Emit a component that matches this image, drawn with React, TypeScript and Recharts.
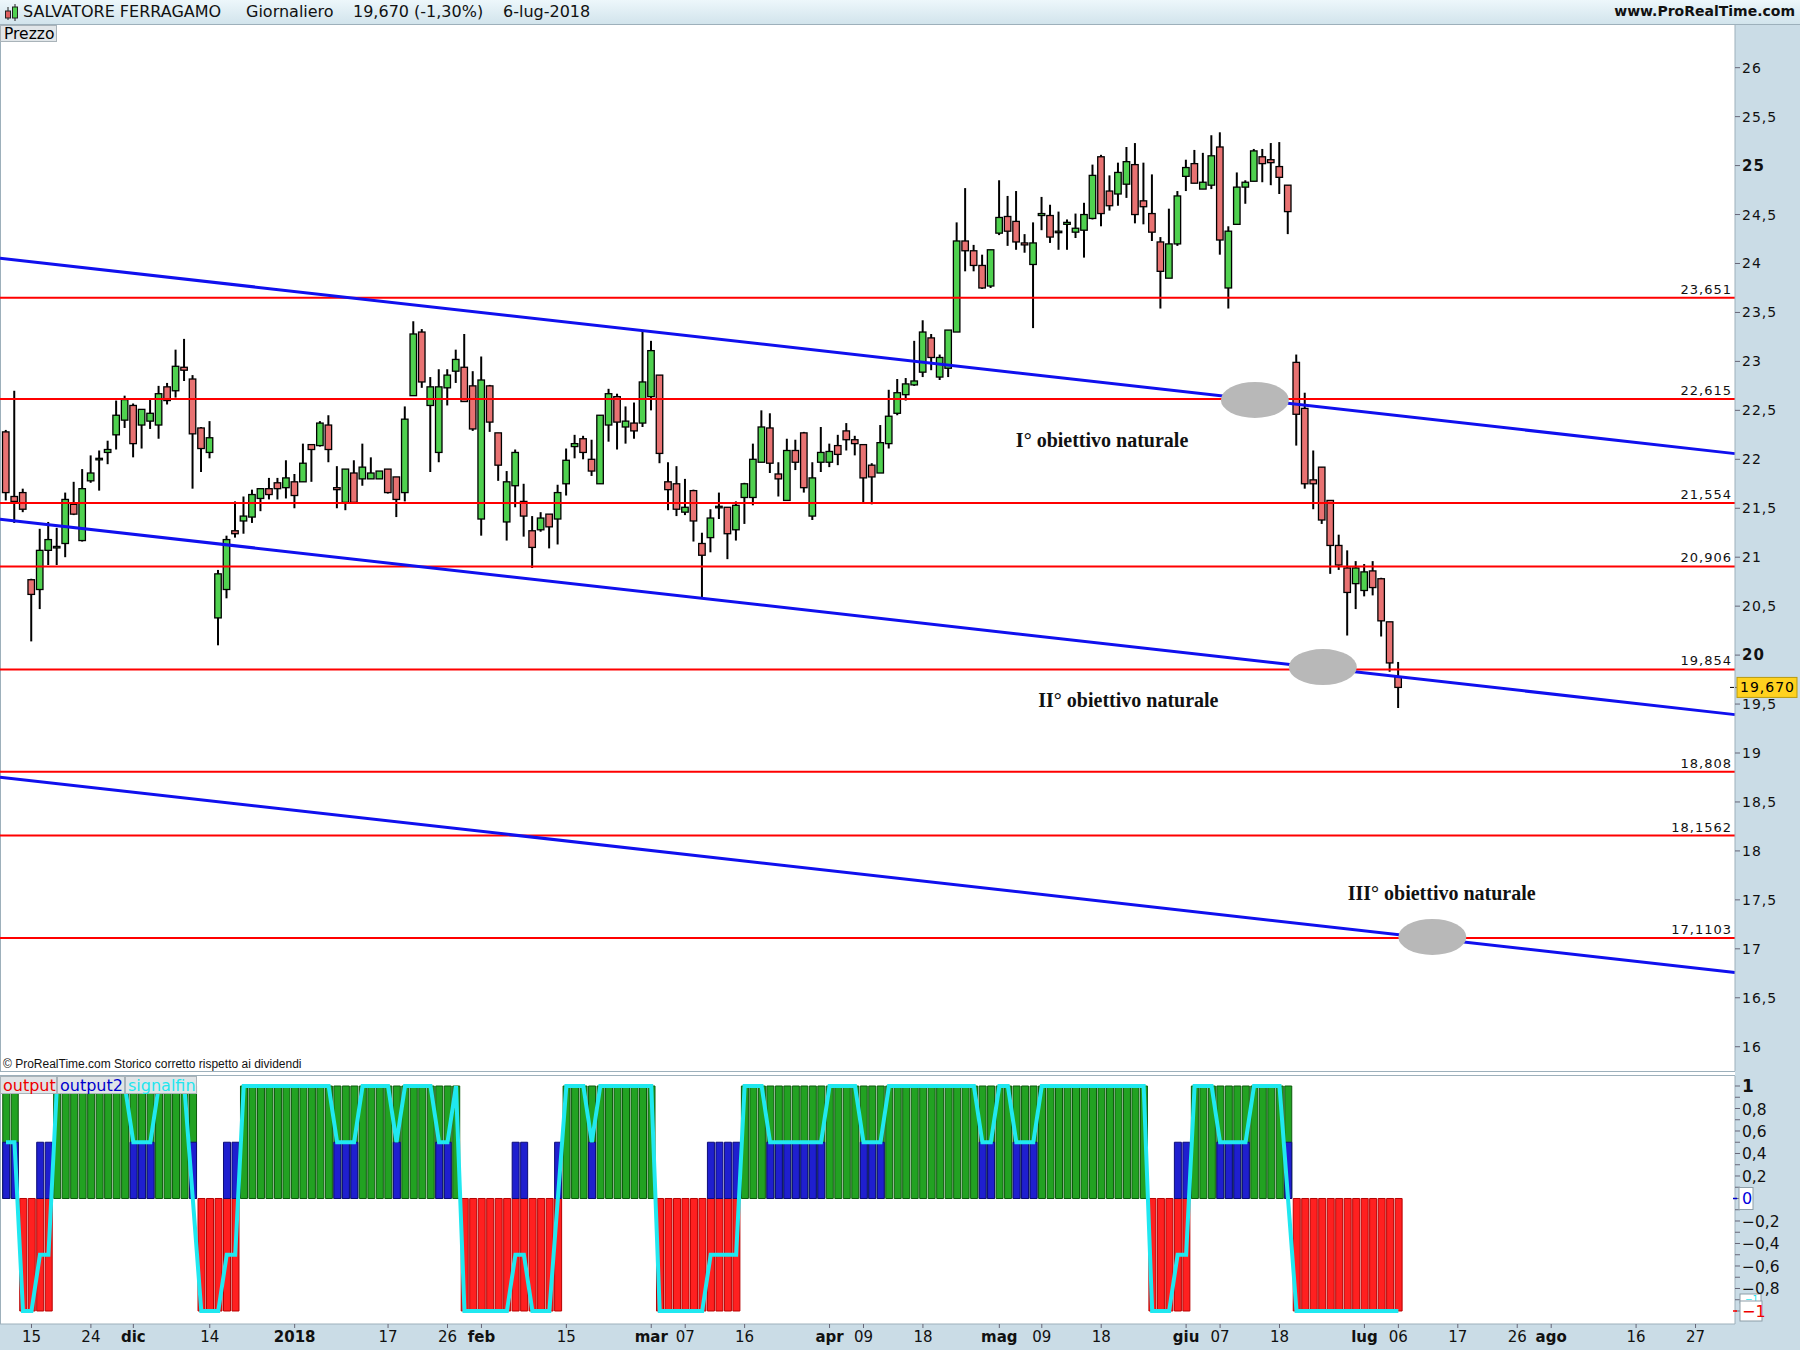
import React from 'react'
import { ComposedChart, Bar, Line, XAxis, YAxis, ReferenceLine, ReferenceDot, Cell } from 'recharts'

// Salvatore Ferragamo, daily, 10 nov 2017 - 6 lug 2018 (165 sedute)
const opens = [
  22.28, 21.62, 21.66, 20.77, 20.67, 21.07, 21.10, 21.14, 21.54, 21.17,
  21.78, 22.00, 22.07, 22.25, 22.40, 22.55, 22.35, 22.39, 22.35, 22.74,
  22.70, 22.94, 22.82, 22.32, 22.07, 20.38, 20.67, 21.27, 21.37, 21.41,
  21.60, 21.70, 21.76, 21.71, 21.77, 21.77, 22.15, 22.14, 22.35, 21.71,
  21.56, 21.86, 21.80, 21.80, 21.80, 21.90, 21.82, 21.66, 22.65, 23.30,
  22.55, 22.07, 22.73, 22.90, 22.94, 22.75, 21.39, 22.75, 22.27, 21.36,
  21.73, 21.57, 21.27, 21.28, 21.44, 21.39, 21.75, 22.13, 22.21, 22.00,
  21.75, 22.35, 22.64, 22.33, 22.37, 22.37, 22.64, 22.86, 21.77, 21.75,
  21.46, 21.68, 21.14, 21.20, 21.51, 21.51, 21.28, 21.61, 21.61, 21.97,
  22.32, 21.85, 21.58, 22.09, 22.27, 21.42, 21.97, 21.97, 22.14, 22.29,
  22.20, 22.15, 21.94, 21.86, 22.16, 22.47, 22.66, 22.76, 22.89, 23.24,
  22.84, 22.93, 23.30, 24.23, 24.13, 23.98, 23.77, 24.31, 24.48, 24.43,
  24.21, 23.99, 24.49, 24.49, 24.33, 24.40, 24.32, 24.34, 24.46, 25.09,
  24.74, 24.71, 24.81, 25.01, 24.64, 24.51, 24.22, 23.85, 24.20, 24.89,
  25.02, 24.76, 24.80, 25.19, 23.75, 24.40, 24.78, 24.84, 25.09, 25.06,
  24.99, 24.80, 22.99, 22.52, 21.79, 21.92, 21.58, 21.12, 20.89, 20.73,
  20.66, 20.86, 20.78, 20.34, 19.78,
]
const highs = [
  22.30, 22.70, 21.70, 20.78, 21.29, 21.36, 21.30, 21.66, 21.77, 21.90,
  22.04, 22.09, 22.19, 22.60, 22.65, 22.57, 22.51, 22.61, 22.75, 22.78,
  23.12, 23.23, 22.86, 22.33, 22.39, 20.87, 21.22, 21.57, 21.62, 21.69,
  21.70, 21.81, 21.81, 21.99, 21.85, 22.16, 22.15, 22.39, 22.45, 21.93,
  21.90, 21.99, 22.16, 22.02, 21.88, 21.90, 21.82, 22.54, 23.41, 23.33,
  22.84, 22.92, 22.92, 23.12, 23.28, 22.90, 23.05, 22.76, 22.27, 21.88,
  22.10, 21.75, 21.42, 21.46, 21.44, 21.74, 22.11, 22.25, 22.24, 22.20,
  22.45, 22.72, 22.67, 22.54, 22.58, 23.31, 23.21, 22.86, 21.97, 21.93,
  21.80, 21.69, 21.25, 21.49, 21.66, 21.51, 21.57, 21.76, 22.16, 22.50,
  22.47, 21.97, 22.21, 22.20, 22.28, 21.97, 22.33, 22.16, 22.25, 22.37,
  22.24, 22.15, 21.96, 22.35, 22.71, 22.82, 22.83, 23.21, 23.42, 23.28,
  23.07, 23.32, 24.42, 24.77, 24.19, 24.09, 24.14, 24.85, 24.69, 24.74,
  24.30, 24.42, 24.68, 24.60, 24.53, 24.45, 24.51, 24.62, 25.01, 25.11,
  24.90, 25.03, 25.19, 25.23, 25.03, 24.91, 24.27, 24.56, 24.74, 25.06,
  25.16, 25.13, 25.31, 25.34, 24.38, 24.93, 24.85, 25.17, 25.17, 25.23,
  25.24, 24.80, 23.07, 22.68, 22.09, 21.92, 21.58, 21.23, 21.07, 20.96,
  20.93, 20.96, 20.79, 20.34, 19.93,
]
const lows = [
  21.58, 21.35, 21.46, 20.14, 20.47, 20.92, 20.92, 21.00, 21.43, 21.16,
  21.76, 21.68, 21.95, 22.10, 22.32, 22.02, 22.11, 22.31, 22.21, 22.56,
  22.63, 22.80, 21.70, 21.87, 22.01, 20.10, 20.58, 21.20, 21.24, 21.35,
  21.47, 21.59, 21.59, 21.60, 21.50, 21.77, 21.77, 22.13, 21.97, 21.50,
  21.48, 21.56, 21.73, 21.80, 21.80, 21.65, 21.41, 21.57, 22.65, 22.73,
  21.87, 21.97, 22.55, 22.78, 22.59, 22.29, 21.22, 22.28, 21.78, 21.17,
  21.51, 21.21, 20.89, 21.26, 21.09, 21.13, 21.63, 22.01, 22.00, 21.83,
  21.75, 22.18, 22.10, 22.16, 22.21, 22.33, 22.50, 21.96, 21.48, 21.42,
  21.43, 21.16, 20.59, 21.05, 21.39, 20.98, 21.17, 21.34, 21.53, 21.97,
  21.86, 21.62, 21.58, 21.89, 21.66, 21.38, 21.87, 21.92, 21.94, 22.09,
  22.04, 21.55, 21.54, 21.86, 22.11, 22.45, 22.60, 22.75, 22.84, 22.91,
  22.81, 22.84, 23.30, 23.92, 23.92, 23.74, 23.75, 24.29, 24.18, 24.14,
  24.11, 23.34, 24.34, 24.21, 24.14, 24.14, 24.26, 24.06, 24.45, 24.38,
  24.54, 24.59, 24.67, 24.41, 24.40, 24.23, 23.54, 23.85, 24.18, 24.74,
  24.82, 24.76, 24.76, 24.09, 23.54, 24.40, 24.61, 24.84, 24.83, 24.80,
  24.71, 24.30, 22.14, 21.70, 21.49, 21.34, 20.83, 20.87, 20.20, 20.47,
  20.60, 20.61, 20.19, 19.83, 19.46,
]
const closes = [
  21.66, 21.57, 21.49, 20.62, 21.07, 21.18, 21.11, 21.59, 21.44, 21.70,
  21.86, 22.01, 22.10, 22.45, 22.61, 22.16, 22.51, 22.47, 22.67, 22.60,
  22.95, 22.91, 22.26, 22.11, 22.22, 20.83, 21.18, 21.24, 21.42, 21.64,
  21.70, 21.64, 21.70, 21.81, 21.63, 21.96, 22.10, 22.37, 22.10, 21.69,
  21.90, 21.56, 21.92, 21.86, 21.88, 21.66, 21.59, 22.41, 23.28, 22.79,
  22.74, 22.74, 22.86, 23.02, 22.59, 22.31, 22.81, 22.38, 21.94, 21.77,
  22.07, 21.42, 21.10, 21.40, 21.31, 21.66, 21.99, 22.16, 22.07, 21.88,
  22.45, 22.67, 22.38, 22.39, 22.29, 22.79, 23.11, 22.06, 21.69, 21.49,
  21.51, 21.37, 21.02, 21.40, 21.52, 21.24, 21.53, 21.75, 22.00, 22.33,
  21.96, 21.80, 22.09, 21.97, 21.71, 21.81, 22.07, 22.08, 22.05, 22.20,
  22.16, 21.81, 21.82, 22.17, 22.44, 22.68, 22.77, 22.80, 23.30, 23.04,
  23.04, 23.32, 24.23, 24.13, 23.98, 23.75, 24.14, 24.47, 24.33, 24.22,
  24.19, 24.21, 24.51, 24.27, 24.33, 24.42, 24.36, 24.50, 24.90, 24.51,
  24.59, 24.93, 25.04, 24.50, 24.58, 24.32, 23.92, 24.20, 24.69, 24.98,
  24.82, 24.83, 25.10, 24.24, 24.33, 24.78, 24.83, 25.15, 25.02, 25.03,
  24.88, 24.53, 22.46, 21.75, 21.75, 21.38, 21.12, 20.92, 20.64, 20.89,
  20.85, 20.69, 20.35, 19.92, 19.67,
]

// indicatore: output (+1/-1), output2 (0,5), signalfin
const outputVals = [
  1, 1, -1, -1, -1, -1, 1, 1, 1, 1,
  1, 1, 1, 1, 1, 1, 1, 1, 1, 1,
  1, 1, 1, -1, -1, -1, -1, -1, 1, 1,
  1, 1, 1, 1, 1, 1, 1, 1, 1, 1,
  1, 1, 1, 1, 1, 1, 1, 1, 1, 1,
  1, 1, 1, 1, -1, -1, -1, -1, -1, -1,
  -1, -1, -1, -1, -1, -1, 1, 1, 1, 1,
  1, 1, 1, 1, 1, 1, 1, -1, -1, -1,
  -1, -1, -1, -1, -1, -1, -1, 1, 1, 1,
  1, 1, 1, 1, 1, 1, 1, 1, 1, 1,
  1, 1, 1, 1, 1, 1, 1, 1, 1, 1,
  1, 1, 1, 1, 1, 1, 1, 1, 1, 1,
  1, 1, 1, 1, 1, 1, 1, 1, 1, 1,
  1, 1, 1, 1, 1, -1, -1, -1, -1, -1,
  1, 1, 1, 1, 1, 1, 1, 1, 1, 1,
  1, 1, -1, -1, -1, -1, -1, -1, -1, -1,
  -1, -1, -1, -1, -1,
]
const output2Vals = [
  0.5, 0.5, null, null, 0.5, 0.5, null, null, null, null,
  null, null, null, null, null, 0.5, 0.5, 0.5, null, null,
  null, null, 0.5, null, null, null, 0.5, 0.5, null, null,
  null, null, null, null, null, null, null, null, null, 0.5,
  0.5, 0.5, null, null, null, null, 0.5, null, null, null,
  null, 0.5, 0.5, null, null, null, null, null, null, null,
  0.5, 0.5, null, null, null, 0.5, null, null, null, 0.5,
  null, null, null, null, null, null, null, null, null, null,
  null, null, null, 0.5, 0.5, 0.5, 0.5, null, null, null,
  0.5, 0.5, 0.5, 0.5, 0.5, 0.5, 0.5, null, null, null,
  null, 0.5, 0.5, 0.5, null, null, null, null, null, null,
  null, null, null, null, null, 0.5, 0.5, null, null, 0.5,
  0.5, 0.5, null, null, null, null, null, null, null, null,
  null, null, null, null, null, null, null, null, 0.5, 0.5,
  null, null, null, 0.5, 0.5, 0.5, 0.5, null, null, null,
  null, 0.5, null, null, null, null, null, null, null, null,
  null, null, null, null, null,
]
const signalVals = [
  0.5, 0.5, -1, -1, -0.5, -0.5, 1, 1, 1, 1,
  1, 1, 1, 1, 1, 0.5, 0.5, 0.5, 1, 1,
  1, 1, 0, -1, -1, -1, -0.5, -0.5, 1, 1,
  1, 1, 1, 1, 1, 1, 1, 1, 1, 0.5,
  0.5, 0.5, 1, 1, 1, 1, 0.5, 1, 1, 1,
  1, 0.5, 0.5, 1, -1, -1, -1, -1, -1, -1,
  -0.5, -0.5, -1, -1, -1, 0, 1, 1, 1, 0.5,
  1, 1, 1, 1, 1, 1, 1, -1, -1, -1,
  -1, -1, -1, -0.5, -0.5, -0.5, -0.5, 1, 1, 1,
  0.5, 0.5, 0.5, 0.5, 0.5, 0.5, 0.5, 1, 1, 1,
  1, 0.5, 0.5, 0.5, 1, 1, 1, 1, 1, 1,
  1, 1, 1, 1, 1, 0.5, 0.5, 1, 1, 0.5,
  0.5, 0.5, 1, 1, 1, 1, 1, 1, 1, 1,
  1, 1, 1, 1, 1, -1, -1, -1, -0.5, -0.5,
  1, 1, 1, 0.5, 0.5, 0.5, 0.5, 1, 1, 1,
  1, 0, -1, -1, -1, -1, -1, -1, -1, -1,
  -1, -1, -1, -1, -1,
]

// livelli orizzontali e canale ribassista
const levels = [23.651, 22.615, 21.554, 20.906, 19.854, 18.808, 18.1562, 17.1103]
const channelX = [-0.707, 203.65]
const channelTop = [24.053, 22.058]
const channelMid = [21.387, 19.392]
const channelLow = [18.753, 16.758]
const targets = [
  { x: 147.1, y: 22.606 },
  { x: 155.1, y: 19.878 },
  { x: 168.0, y: 17.121 },
]
const notes = [
  { x: 129.1, y: 22.2, text: 'I° obiettivo naturale' },
  { x: 132.2, y: 19.54, text: 'II° obiettivo naturale' },
  { x: 169.1, y: 17.57, text: 'III° obiettivo naturale' },
]
const lastPrice = 19.67

const priceTicks = [16, 16.5, 17, 17.5, 18, 18.5, 19, 19.5, 20, 20.5, 21, 21.5, 22, 22.5, 23, 23.5, 24, 24.5, 25, 25.5, 26, lastPrice]
const indTicks = [-1, -0.9, -0.8, -0.7, -0.6, -0.5, -0.4, -0.3, -0.2, -0.1, 0, 0.1, 0.2, 0.3, 0.4, 0.5, 0.6, 0.7, 0.8, 0.9, 1]
const xTickIdx = [3, 10, 15, 24, 34, 45, 52, 56, 66, 76, 80, 87, 97, 101, 108, 117, 122, 129, 139, 143, 150, 160, 164, 171, 178, 182, 192, 199]
const xTickLabel = ['15', '24', 'dic', '14', '2018', '17', '26', 'feb', '15', 'mar', '07', '16', 'apr', '09', '18', 'mag', '09', '18', 'giu', '07', '18', 'lug', '06', '17', '26', 'ago', '16', '27']
const boldLabels = ['dic', '2018', 'feb', 'mar', 'apr', 'mag', 'giu', 'lug', 'ago']

const candles = opens.map((o, i) => ({ i, o, h: highs[i], l: lows[i], c: closes[i] }))
const indicator = outputVals.map((v, i) => ({ i, out: v, out2: output2Vals[i], sig: signalVals[i] }))

const X_DOMAIN = [-0.707, 203.65]
const SANS = '"DejaVu Sans", sans-serif'
const AXIS_BG = '#cadce6'
const BORDER = '#9db0bb'

const fmt = (v: number) => String(v).replace('.', ',').replace('-', '\u2212')

function Candle(props: any) {
  const { x, y, width, height, payload } = props
  const { o, h, l, c } = payload
  const top0 = Math.min(y, y + height)
  const hh = Math.abs(height)
  if (h <= l) return null
  const ppu = hh / (h - l)
  const yOf = (v: number) => top0 + (h - v) * ppu
  const cx = x + width / 2
  const up = c >= o
  const bTop = yOf(Math.max(o, c))
  const bBot = yOf(Math.min(o, c))
  const bw = 6.5
  return (
    <g>
      <line x1={cx} x2={cx} y1={top0} y2={top0 + hh} stroke="#000" strokeWidth={2} />
      <rect x={cx - bw / 2} y={bTop} width={bw} height={Math.max(bBot - bTop, 1.5)}
        fill={up ? '#4fd14f' : '#e87272'} stroke="#000" strokeWidth={1.3} />
    </g>
  )
}

function PriceTick(props: any) {
  const { x, y, payload } = props
  const v = payload.value
  if (v === lastPrice) {
    return (
      <g>
        <line x1={x - 12} x2={x - 8} y1={y} y2={y} stroke="#000" />
        <rect x={x - 5} y={y - 10} width={60} height={20} fill="#ffd21f" stroke="#b89a10" />
        <text x={x - 2} y={y + 5} fontSize={14} fontFamily={SANS} letterSpacing={1} fill="#000">{lastPrice.toFixed(3).replace('.', ',')}</text>
      </g>
    )
  }
  const bold = v === 25 || v === 20
  return (
    <text x={x} y={y + 5} fontSize={bold ? 15 : 14} fontWeight={bold ? 'bold' : 'normal'} fontFamily={SANS} letterSpacing={1} fill="#111">
      {fmt(v)}
    </text>
  )
}

function IndTick(props: any) {
  const { x, y, payload } = props
  const v = payload.value
  const tenth = Math.round(v * 10)
  if (tenth % 2 !== 0) return null
  if (tenth === 0) {
    return (
      <g>
        <line x1={x - 9} x2={x - 5} y1={y} y2={y} stroke="#0000cc" strokeWidth={1.5} />
        <rect x={x - 3} y={y - 11} width={14} height={22} fill="#fff" stroke="#8d9ea8" />
        <text x={x} y={y + 6} fontSize={16} fontFamily={SANS} fill="#0000dd">0</text>
      </g>
    )
  }
  if (tenth === -10) {
    return (
      <g>
        <rect x={x - 2} y={y - 17} width={21} height={9} fill="#fff" stroke="#8d9ea8" />
        <text x={x + 3} y={y - 9} fontSize={9} fontFamily={SANS} fill="#22e6ee">{'\u22121'}</text>
        <line x1={x - 9} x2={x - 5} y1={y} y2={y} stroke="#ff0000" strokeWidth={1.5} />
        <rect x={x - 2} y={y - 10} width={22} height={20} fill="#fff" stroke="#8d9ea8" />
        <text x={x} y={y + 6} fontSize={16} fontFamily={SANS} fill="#ee0000">{'\u22121'}</text>
      </g>
    )
  }
  const bold = tenth === 10
  return (
    <text x={x} y={y + 6} fontSize={bold ? 17 : 15.5} fontWeight={bold ? 'bold' : 'normal'} fontFamily={SANS} fill="#111">
      {fmt(Number((tenth / 10).toFixed(1)))}
    </text>
  )
}

function DateTick(props: any) {
  const { x, y, payload } = props
  const k = xTickIdx.indexOf(payload.value)
  const label = xTickLabel[k]
  const bold = boldLabels.includes(label)
  return (
    <text x={x} y={y + 12} textAnchor="middle" fontSize={15} fontWeight={bold ? 'bold' : 'normal'} fontFamily={SANS} fill="#111">
      {label}
    </text>
  )
}

function LevelLabel(props: any) {
  const { viewBox, value } = props
  return (
    <text x={viewBox.x + viewBox.width - 3} y={viewBox.y - 4} textAnchor="end" fontSize={13} fontFamily={SANS} letterSpacing={1} fill="#111">
      {value}
    </text>
  )
}

const ellipseShape = (p: any) => <ellipse cx={p.cx} cy={p.cy} rx={34} ry={18} fill="#b8b8b8" />
const noteShape = (text: string) => (p: any) => (
  <text x={p.cx} y={p.cy + 7} textAnchor="middle" fontSize={20} fontWeight="bold" fontFamily='"Liberation Serif", serif' fill="#111">
    {text}
  </text>
)

export default function App() {
  return (
    <div style={{ position: 'relative', width: 1800, height: 1350, background: '#fff', overflow: 'hidden', fontFamily: SANS }}>
      <style>{'body{margin:0}'}</style>

      {/* barra titolo */}
      <div style={{ position: 'absolute', left: 0, top: 0, width: 1800, height: 24, background: 'linear-gradient(#edf7fb, #d2e4ec)', borderBottom: `1px solid ${BORDER}`, fontSize: 16, color: '#111' }}>
        <svg style={{ position: 'absolute', left: 3, top: 4 }} width={18} height={17}>
          <line x1={5} x2={5} y1={3} y2={16} stroke="#222" />
          <rect x={2.5} y={7} width={5} height={7} fill="#e06060" stroke="#222" />
          <line x1={12} x2={12} y1={0} y2={17} stroke="#222" />
          <rect x={9.5} y={3} width={5} height={11} fill="#4fd24f" stroke="#222" />
        </svg>
        <span style={{ position: 'absolute', left: 23, top: 2 }}>SALVATORE FERRAGAMO</span>
        <span style={{ position: 'absolute', left: 246, top: 2 }}>Giornaliero</span>
        <span style={{ position: 'absolute', left: 353, top: 2 }}>19,670 (-1,30%)</span>
        <span style={{ position: 'absolute', left: 503, top: 2 }}>6-lug-2018</span>
        <span style={{ position: 'absolute', right: 5, top: 3, fontSize: 14, fontWeight: 'bold' }}>www.ProRealTime.com</span>
      </div>

      {/* sfondi assi */}
      <div style={{ position: 'absolute', left: 1735, top: 25, width: 65, height: 1325, background: AXIS_BG }} />
      <div style={{ position: 'absolute', left: 0, top: 1324, width: 1800, height: 26, background: AXIS_BG }} />
      <div style={{ position: 'absolute', left: 0, top: 25, width: 1, height: 1299, background: BORDER }} />
      <div style={{ position: 'absolute', left: 0, top: 1071, width: 1735, height: 3, borderTop: `1px solid ${BORDER}`, borderBottom: `1px solid ${BORDER}`, background: '#fff' }} />

      {/* prezzo */}
      <div style={{ position: 'absolute', left: 0, top: 25 }}>
        <ComposedChart width={1800} height={1046} data={candles} margin={{ top: 0, right: 0, bottom: 0, left: 0 }}>
          <XAxis dataKey="i" type="number" domain={X_DOMAIN} allowDataOverflow hide />
          <YAxis orientation="right" width={65} type="number" domain={[15.752, 26.436]} allowDataOverflow
            ticks={priceTicks} interval={0} tick={<PriceTick />} tickSize={5} tickMargin={2}
            tickLine={{ stroke: '#667' }} axisLine={{ stroke: BORDER }} />
          {targets.map((t, k) => (
            <ReferenceDot key={`t${k}`} x={t.x} y={t.y} r={1} shape={ellipseShape} ifOverflow="visible" />
          ))}
          <Bar dataKey={(d: any) => [d.l, d.h]} barSize={8} shape={<Candle />} isAnimationActive={false} />
          {levels.map((v) => (
            <ReferenceLine key={v} y={v} stroke="#ff0000" strokeWidth={2}
              label={<LevelLabel value={String(v).replace('.', ',')} />} />
          ))}
          {[channelTop, channelMid, channelLow].map((ln, k) => (
            <ReferenceLine key={`c${k}`} stroke="#1010ee" strokeWidth={3} ifOverflow="visible"
              segment={[{ x: channelX[0], y: ln[0] }, { x: channelX[1], y: ln[1] }]} />
          ))}
          {notes.map((n, k) => (
            <ReferenceDot key={`n${k}`} x={n.x} y={n.y} r={1} shape={noteShape(n.text)} ifOverflow="visible" />
          ))}
        </ComposedChart>
      </div>

      <div style={{ position: 'absolute', left: 0, top: 25, width: 57, height: 17, background: '#e1e6e9', border: '1px solid #a9b3b9', fontSize: 15.5, lineHeight: '17px', paddingLeft: 3, boxSizing: 'border-box' }}>Prezzo</div>
      <div style={{ position: 'absolute', left: 3, top: 1057, fontSize: 12, fontFamily: '"Liberation Sans", sans-serif', color: '#111' }}>© ProRealTime.com  Storico corretto rispetto ai dividendi</div>

      {/* indicatore */}
      <div style={{ position: 'absolute', left: 0, top: 1076 }}>
        <ComposedChart width={1800} height={274} data={indicator} margin={{ top: 0, right: 0, bottom: 0, left: 0 }}>
          <XAxis xAxisId="a" dataKey="i" type="number" domain={X_DOMAIN} allowDataOverflow height={26}
            ticks={xTickIdx} interval={0} tick={<DateTick />} tickSize={4} tickLine={{ stroke: '#667' }} axisLine={{ stroke: BORDER }} />
          <XAxis xAxisId="b" dataKey="i" type="number" domain={X_DOMAIN} allowDataOverflow hide />
          <YAxis orientation="right" width={65} type="number" domain={[-1.1156, 1.0889]} allowDataOverflow
            ticks={indTicks} interval={0} tick={<IndTick />} tickSize={5} tickMargin={2}
            tickLine={{ stroke: '#667' }} axisLine={{ stroke: BORDER }} />
          <Bar xAxisId="a" dataKey="out" barSize={7} isAnimationActive={false}>
            {indicator.map((d, k) => (
              <Cell key={k} fill={d.out > 0 ? '#22a222' : '#ff2020'} stroke={d.out > 0 ? '#0b5a0b' : '#b80000'} strokeWidth={1} />
            ))}
          </Bar>
          <Bar xAxisId="b" dataKey="out2" barSize={7} fill="#1f1fcf" stroke="#0c0c78" strokeWidth={1} isAnimationActive={false} />
          <Line xAxisId="a" dataKey="sig" type="linear" stroke="#20e8f0" strokeWidth={4} dot={false} isAnimationActive={false} />
        </ComposedChart>
      </div>

      <div style={{ position: 'absolute', left: 0, top: 1076, display: 'flex', fontSize: 16, lineHeight: '18px' }}>
        <div style={{ width: 57, height: 18, background: '#dfe4e7', border: '1px solid #a9b3b9', boxSizing: 'border-box', color: '#ee0000', paddingLeft: 2 }}>output</div>
        <div style={{ width: 68, height: 18, background: '#dfe4e7', border: '1px solid #a9b3b9', boxSizing: 'border-box', color: '#0000cc', paddingLeft: 2 }}>output2</div>
        <div style={{ width: 72, height: 18, background: '#dfe4e7', border: '1px solid #a9b3b9', boxSizing: 'border-box', color: '#22e6ee', paddingLeft: 2 }}>signalfin</div>
      </div>
    </div>
  )
}
